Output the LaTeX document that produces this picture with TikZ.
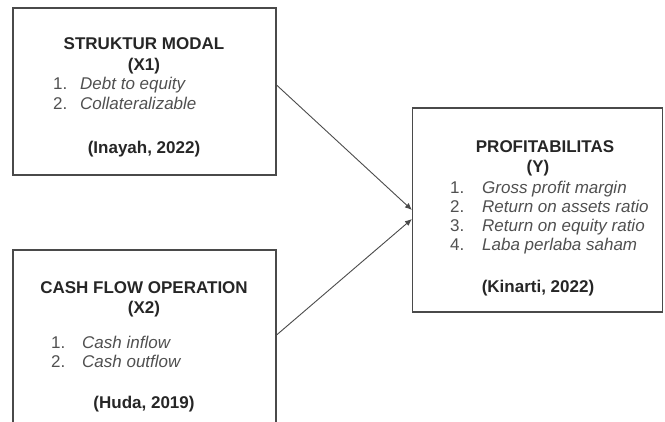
\documentclass[tikz,border=0pt]{standalone}
\usepackage{fontspec}
\setmainfont{Liberation Sans}
\usepackage{xcolor}
\usepackage{tikz}
\usetikzlibrary{arrows.meta}
\usetikzlibrary{positioning}

\definecolor{garis}{HTML}{4A4A4A}
\definecolor{abu}{HTML}{505050}

\begin{document}
\begin{tikzpicture}[
    x=1pt, y=-1pt,
    kotak/.style={rectangle, draw=garis, line width=1.1pt, inner sep=0pt},
    judul/.style={anchor=base, inner sep=0pt, text=black!85, font=\fontsize{17}{20}\selectfont\bfseries},
    butir/.style={anchor=base west, inner sep=0pt, text=abu, font=\fontsize{17}{20}\selectfont\itshape},
    panah/.style={-{Latex[length=7pt, width=6pt]}, garis, line width=0.9pt}
]
    \useasboundingbox (0,0) rectangle (665,421);

    % Kotak variabel
    \node[kotak, minimum width=263pt, minimum height=167pt] (x1) at (144.5,91.5) {};
    \node[kotak, minimum width=263pt, minimum height=180pt] (x2) at (144.5,340) {};
    \node[kotak, minimum width=250pt, minimum height=204pt] (y) at (537.5,210) {};

    % Struktur modal (X1)
    \node[judul] (x1-a) at (144,49) {STRUKTUR MODAL};
    \node[judul] (x1-b) at (144,70) {(X1)};
    \node[butir] (x1-1) at (53,89) {\makebox[27pt][l]{\upshape 1.}Debt to equity};
    \node[butir] (x1-2) at (53,109) {\makebox[27pt][l]{\upshape 2.}Collateralizable};
    \node[judul] (x1-s) at (144,153) {(Inayah, 2022)};

    % Cash flow operation (X2)
    \node[judul] (x2-a) at (144,293) {CASH FLOW OPERATION};
    \node[judul] (x2-b) at (144,313) {(X2)};
    \node[butir] (x2-1) at (51,348) {\makebox[31pt][l]{\upshape 1.}Cash inflow};
    \node[butir] (x2-2) at (51,367) {\makebox[31pt][l]{\upshape 2.}Cash outflow};
    \node[judul] (x2-s) at (144,408) {(Huda, 2019)};

    % Profitabilitas (Y)
    \node[judul] (y-a) at (545,152) {PROFITABILITAS};
    \node[judul] (y-b) at (538,172) {(Y)};
    \node[butir] (y-1) at (450,193) {\makebox[32pt][l]{\upshape 1.}Gross profit margin};
    \node[butir] (y-2) at (450,212) {\makebox[32pt][l]{\upshape 2.}Return on assets ratio};
    \node[butir] (y-3) at (450,231) {\makebox[32pt][l]{\upshape 3.}Return on equity ratio};
    \node[butir] (y-4) at (450,250) {\makebox[32pt][l]{\upshape 4.}Laba perlaba saham};
    \node[judul] (y-s) at (538,292) {(Kinarti, 2022)};

    % Panah pengaruh
    \draw[panah] ([yshift=6.5pt]x1.east) -- (y.west);
    \draw[panah] ([yshift=5pt]x2.east) -- ([yshift=-9pt]y.west);

\end{tikzpicture}
\end{document}
